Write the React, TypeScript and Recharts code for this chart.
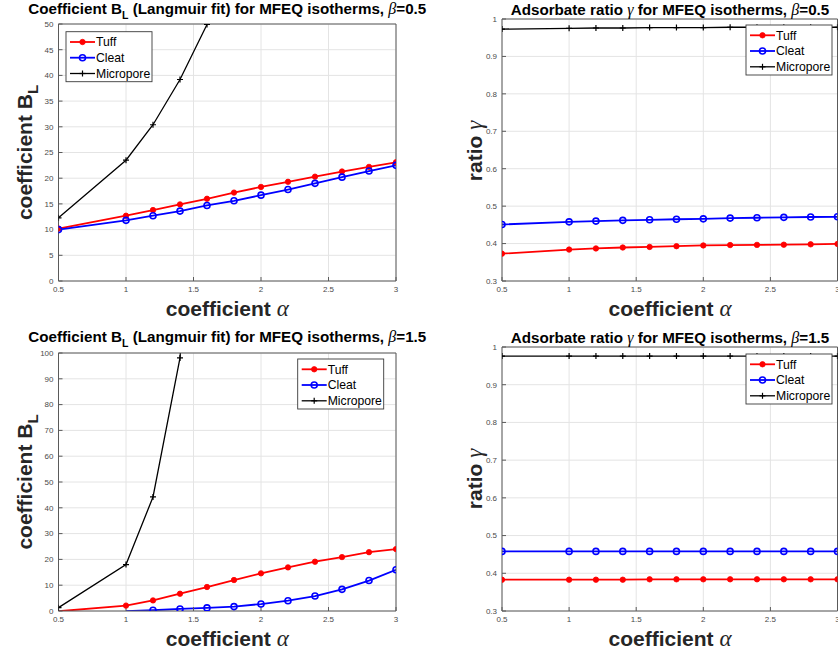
import React from "react";
import { LineChart, Line, XAxis, YAxis, CartesianGrid } from "recharts";

// ---------- data ----------
const alpha = [0.5, 1, 1.2, 1.4, 1.6, 1.8, 2, 2.2, 2.4, 2.6, 2.8, 3];
const xTicks = [0.5, 1, 1.5, 2, 2.5, 3];
const seriesNames = ["Tuff", "Cleat", "Micropore"];

// Coefficient B_L, beta = 0.5
const tuffB05 = [10.2, 12.7, 13.8, 14.9, 16.0, 17.2, 18.3, 19.3, 20.3, 21.3, 22.2, 23.1];
const cleatB05 = [10.0, 11.8, 12.7, 13.6, 14.7, 15.6, 16.7, 17.8, 19.0, 20.2, 21.4, 22.5];
const microB05 = [12.3, 23.5, 30.4, 39.2, 49.9, null, null, null, null, null, null, null];

// Adsorbate ratio gamma, beta = 0.5
const tuffG05 = [0.373, 0.384, 0.387, 0.3895, 0.391, 0.393, 0.395, 0.396, 0.3965, 0.397, 0.398, 0.399];
const cleatG05 = [0.451, 0.458, 0.46, 0.462, 0.4635, 0.465, 0.466, 0.468, 0.469, 0.47, 0.471, 0.4715];
const microG05 = [0.973, 0.975, 0.976, 0.976, 0.977, 0.977, 0.977, 0.978, 0.978, 0.978, 0.978, 0.978];

// Coefficient B_L, beta = 1.5
const tuffB15 = [-0.1, 2.1, 4.1, 6.7, 9.3, 12.0, 14.6, 16.9, 19.1, 20.9, 22.8, 24.0];
const cleatB15 = [null, -0.1, 0.3, 0.8, 1.2, 1.7, 2.7, 4.0, 5.8, 8.4, 11.8, 16.0];
const microB15 = [1.3, 18.0, 44.2, 98.1, 250, null, null, null, null, null, null, null];

// Adsorbate ratio gamma, beta = 1.5
const tuffG15 = [0.383, 0.383, 0.383, 0.383, 0.384, 0.384, 0.384, 0.384, 0.384, 0.384, 0.384, 0.384];
const cleatG15 = [0.458, 0.458, 0.458, 0.458, 0.458, 0.458, 0.458, 0.458, 0.458, 0.458, 0.458, 0.458];
const microG15 = [0.976, 0.976, 0.976, 0.976, 0.976, 0.976, 0.976, 0.976, 0.976, 0.976, 0.976, 0.976];

const bTicks05 = [0, 5, 10, 15, 20, 25, 30, 35, 40, 45, 50];
const bTicks15 = [0, 10, 20, 30, 40, 50, 60, 70, 80, 90, 100];
const gTicks = [0.3, 0.4, 0.5, 0.6, 0.7, 0.8, 0.9, 1];

const build = (t: (number | null)[], c: (number | null)[], m: (number | null)[]) =>
  alpha.map((a, i) => ({ alpha: a, tuff: t[i], cleat: c[i], micro: m[i] }));

// ---------- style ----------
const SANS = "'Liberation Sans', Arial, Helvetica, sans-serif";
const SERIF = "'Liberation Serif', 'Times New Roman', serif";
const BOX = "#5a5a5a";
const GRID = "#e4e4e4";
const RED = "#ff0000";
const BLUE = "#0000ff";
const BLACK = "#000000";

function markerShape(kind: string, cx: number, cy: number, key?: any) {
  if (kind === "tuff") return <circle key={key} cx={cx} cy={cy} r={2.7} fill={RED} stroke={RED} strokeWidth={0.8} />;
  if (kind === "cleat") return <circle key={key} cx={cx} cy={cy} r={3} fill="none" stroke={BLUE} strokeWidth={1.6} />;
  return (
    <g key={key}>
      <line x1={cx - 3} y1={cy} x2={cx + 3} y2={cy} stroke={BLACK} strokeWidth={1.2} />
      <line x1={cx} y1={cy - 3} x2={cx} y2={cy + 3} stroke={BLACK} strokeWidth={1.2} />
    </g>
  );
}

const makeDot = (kind: string) => (props: any) => {
  const { cx, cy, index, payload, dataKey } = props;
  const v = payload ? payload[dataKey] : props.value;
  if (v == null || v < 0 || cx == null || cy == null || isNaN(cx) || isNaN(cy)) return <g key={`d-${kind}-${index}`} />;
  return markerShape(kind, cx, cy, `d-${kind}-${index}`);
};

type PanelProps = {
  left: number; top: number; width: number; height: number;
  margin: { top: number; right: number; bottom: number; left: number };
  yWidth: number; data: any[]; yDomain: [number, number]; yTicks: number[];
};

function Panel({ left, top, width, height, margin, yWidth, data, yDomain, yTicks }: PanelProps) {
  const tickStyle = { fontSize: 8, fill: "#4a4a4a", fontFamily: SANS };
  return (
    <div style={{ position: "absolute", left, top }}>
      <LineChart width={width} height={height} data={data} margin={margin}>
        <CartesianGrid stroke={GRID} strokeWidth={1} />
        <XAxis dataKey="alpha" type="number" domain={[0.5, 3]} ticks={xTicks} interval={0}
          allowDataOverflow height={30} tickSize={-4} tickMargin={9}
          axisLine={{ stroke: BOX }} tickLine={{ stroke: BOX }} tick={tickStyle} />
        <XAxis xAxisId="top" orientation="top" dataKey="alpha" type="number" domain={[0.5, 3]}
          ticks={xTicks} interval={0} allowDataOverflow height={1} tickSize={-4} tick={false}
          axisLine={{ stroke: BOX }} tickLine={{ stroke: BOX }} />
        <YAxis type="number" domain={yDomain} ticks={yTicks} interval={0} allowDataOverflow
          width={yWidth} tickSize={-4} tickMargin={9}
          axisLine={{ stroke: BOX }} tickLine={{ stroke: BOX }} tick={tickStyle} />
        <YAxis yAxisId="right" orientation="right" type="number" domain={yDomain} ticks={yTicks}
          interval={0} allowDataOverflow width={1} tickSize={-4} tick={false}
          axisLine={{ stroke: BOX }} tickLine={{ stroke: BOX }} />
        <Line dataKey="tuff" name={seriesNames[0]} stroke={RED} strokeWidth={1.8} dot={makeDot("tuff")}
          isAnimationActive={false} connectNulls={false} />
        <Line dataKey="cleat" name={seriesNames[1]} stroke={BLUE} strokeWidth={1.8} dot={makeDot("cleat")}
          isAnimationActive={false} connectNulls={false} />
        <Line dataKey="micro" name={seriesNames[2]} stroke={BLACK} strokeWidth={1.3} dot={makeDot("micro")}
          isAnimationActive={false} connectNulls={false} />
      </LineChart>
    </div>
  );
}

function LegendBox({ x, y }: { x: number; y: number }) {
  const rows = [10.3, 26, 41.8];
  const kinds = ["tuff", "cleat", "micro"];
  const colors = [RED, BLUE, BLACK];
  return (
    <g>
      <rect x={x} y={y} width={86} height={50} fill="#ffffff" stroke="#3a3a3a" strokeWidth={0.9} />
      {kinds.map((k, i) => (
        <g key={k}>
          <line x1={x + 4} y1={y + rows[i]} x2={x + 29} y2={y + rows[i]} stroke={colors[i]}
            strokeWidth={k === "micro" ? 1.3 : 1.8} />
          {markerShape(k, x + 16.5, y + rows[i])}
          <text x={x + 30} y={y + rows[i]} dy="0.36em" fontSize={12.2} fontFamily={SANS} fill="#000">
            {seriesNames[i]}
          </text>
        </g>
      ))}
    </g>
  );
}

const TITLE_SIZE = 15.2;

function TitleB({ x, y, beta }: { x: number; y: number; beta: string }) {
  return (
    <text x={x} y={y} textAnchor="middle" fontSize={TITLE_SIZE} fontWeight="bold" fontFamily={SANS} fill="#000">
      Coefficient B
      <tspan dy={5} fontSize={10.5}>L</tspan>
      <tspan dy={-5}> (Langmuir fit) for MFEQ isotherms, </tspan>
      <tspan fontFamily={SERIF} fontStyle="italic" fontWeight="normal" fontSize={16}>β</tspan>
      <tspan>={beta}</tspan>
    </text>
  );
}

function TitleG({ x, y, beta }: { x: number; y: number; beta: string }) {
  return (
    <text x={x} y={y} textAnchor="middle" fontSize={TITLE_SIZE} fontWeight="bold" fontFamily={SANS} fill="#000">
      Adsorbate ratio{" "}
      <tspan fontFamily={SERIF} fontStyle="italic" fontWeight="normal" fontSize={16}>γ</tspan>
      <tspan> for MFEQ isotherms, </tspan>
      <tspan fontFamily={SERIF} fontStyle="italic" fontWeight="normal" fontSize={16}>β</tspan>
      <tspan>={beta}</tspan>
    </text>
  );
}

function XLabel({ x, y }: { x: number; y: number }) {
  return (
    <text x={x} y={y} textAnchor="middle" fontSize={21} fontWeight="bold" fontFamily={SANS} fill="#262626">
      coefficient{" "}
      <tspan fontFamily={SERIF} fontStyle="italic" fontWeight="normal" fontSize={23}>α</tspan>
    </text>
  );
}

function YLabelB({ x, y }: { x: number; y: number }) {
  return (
    <text x={x} y={y} transform={`rotate(-90, ${x}, ${y})`} textAnchor="middle" fontSize={21}
      fontWeight="bold" fontFamily={SANS} fill="#262626">
      coefficient B
      <tspan dy={6} fontSize={15}>L</tspan>
    </text>
  );
}

function YLabelG({ x, y }: { x: number; y: number }) {
  return (
    <text x={x} y={y} transform={`rotate(-90, ${x}, ${y})`} textAnchor="middle" fontSize={21}
      fontWeight="bold" fontFamily={SANS} fill="#262626">
      ratio{" "}
      <tspan fontFamily={SERIF} fontStyle="italic" fontWeight="normal" fontSize={23}>γ</tspan>
    </text>
  );
}

export default function App() {
  return (
    <div style={{ position: "absolute", left: 0, top: 0, width: 838, height: 653, overflow: "hidden", background: "#ffffff" }}>
      <Panel left={0} top={0} width={420} height={330}
        margin={{ top: 23, right: 23, bottom: 19, left: 0 }} yWidth={58.5}
        data={build(tuffB05, cleatB05, microB05)} yDomain={[0, 50]} yTicks={bTicks05} />
      <Panel left={420} top={0} width={419} height={330}
        margin={{ top: 18, right: 0.5, bottom: 19, left: 0 }} yWidth={82}
        data={build(tuffG05, cleatG05, microG05)} yDomain={[0.3, 1]} yTicks={gTicks} />
      <Panel left={0} top={330} width={420} height={323}
        margin={{ top: 22, right: 23, bottom: 12, left: 0 }} yWidth={58.5}
        data={build(tuffB15, cleatB15, microB15)} yDomain={[0, 100]} yTicks={bTicks15} />
      <Panel left={420} top={330} width={419} height={323}
        margin={{ top: 16, right: 0.5, bottom: 12, left: 0 }} yWidth={82}
        data={build(tuffG15, cleatG15, microG15)} yDomain={[0.3, 1]} yTicks={gTicks} />
      <svg width={838} height={653} style={{ position: "absolute", left: 0, top: 0, pointerEvents: "none" }}>
        <TitleB x={227.3} y={14} beta="0.5" />
        <TitleG x={670} y={14.5} beta="0.5" />
        <TitleB x={227.3} y={342} beta="1.5" />
        <TitleG x={670} y={343} beta="1.5" />
        <XLabel x={227.3} y={316} />
        <XLabel x={670} y={316} />
        <XLabel x={227.3} y={646} />
        <XLabel x={670} y={646} />
        <YLabelB x={32} y={152.5} />
        <YLabelG x={482} y={151} />
        <YLabelB x={32} y={482} />
        <YLabelG x={482} y={479} />
        <LegendBox x={66} y={31.7} />
        <LegendBox x={746} y={25} />
        <LegendBox x={297.7} y={359} />
        <LegendBox x={746} y={354} />
      </svg>
    </div>
  );
}
